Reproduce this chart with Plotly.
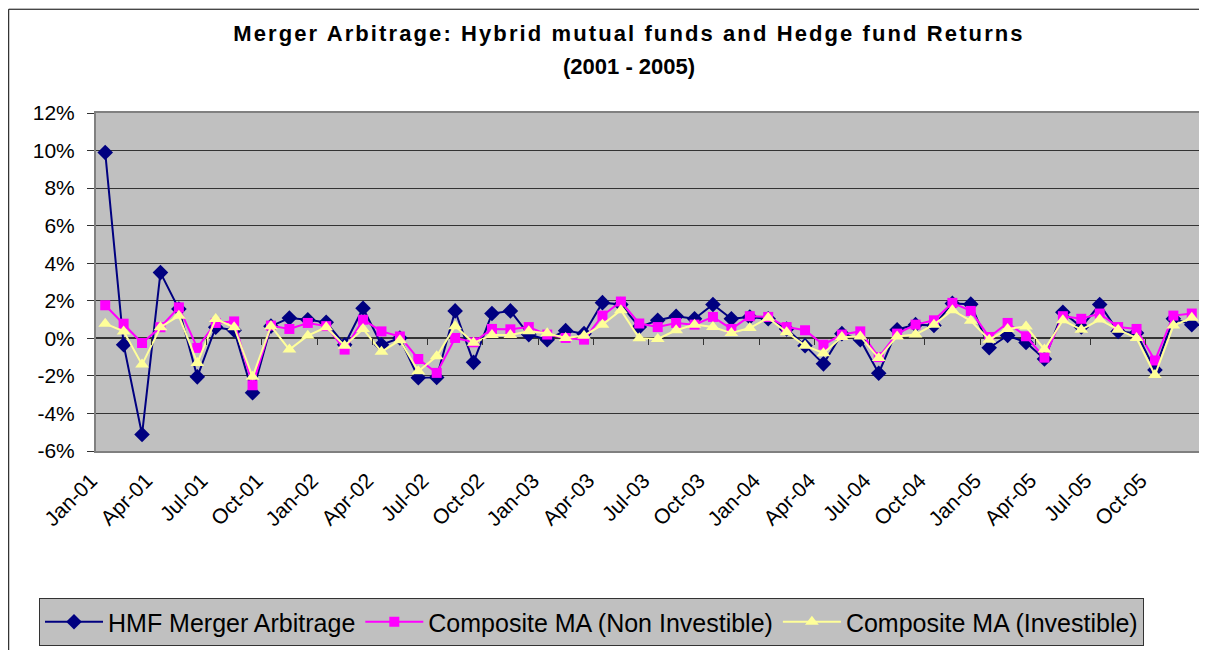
import plotly.graph_objects as go

# Meses (Jan-01 .. Dec-05)
MONTHS = ['Jan', 'Feb', 'Mar', 'Apr', 'May', 'Jun', 'Jul', 'Aug', 'Sep', 'Oct', 'Nov', 'Dec']
YEARS = ['01', '02', '03', '04', '05']
periods = [f"{m}-{y}" for y in YEARS for m in MONTHS]

# Retornos mensais (%)
hmf_merger = [9.9, -0.34, -5.12, 3.5, 1.56, -2.05, 0.59, 0.43, -2.9, 0.65,
              1.08, 0.99, 0.85, -0.34, 1.6, -0.34, 0.02, -2.1, -2.08, 1.46,
              -1.28, 1.32, 1.46, 0.2, -0.07, 0.41, 0.25, 1.9, 1.8, 0.6,
              0.96, 1.18, 1.04, 1.8, 1.04, 1.14, 1.04, 0.5, -0.39, -1.36,
              0.25, -0.07, -1.86, 0.46, 0.73, 0.68, 1.86, 1.82, -0.5, 0.15,
              -0.22, -1.1, 1.39, 0.6, 1.8, 0.37, 0.28, -1.68, 1.04, 0.73]
composite_non_inv = [1.76, 0.78, -0.25, 0.59, 1.65, -0.51, 0.82, 0.9, -2.5, 0.68,
                     0.5, 0.82, 0.65, -0.6, 0.99, 0.37, 0.1, -1.1, -1.84, 0.02,
                     -0.21, 0.5, 0.48, 0.6, 0.2, 0.02, -0.07, 1.21, 1.96, 0.79,
                     0.6, 0.82, 0.73, 1.14, 0.5, 1.18, 1.14, 0.6, 0.43, -0.34,
                     0.2, 0.37, -1.0, 0.25, 0.73, 0.96, 1.89, 1.46, 0.07, 0.82,
                     0.11, -1.03, 1.18, 1.04, 1.32, 0.6, 0.5, -1.18, 1.21, 1.32]
composite_inv = [0.78, 0.37, -1.4, 0.59, 1.2, -1.31, 1.03, 0.59, -2.05, 0.65,
                 -0.6, 0.14, 0.59, -0.39, 0.5, -0.72, -0.1, -1.75, -0.96, 0.65,
                 -0.24, 0.18, 0.18, 0.38, 0.27, 0.02, 0.14, 0.73, 1.5, 0.0,
                 -0.03, 0.43, 0.73, 0.6, 0.28, 0.55, 1.09, 0.32, -0.39, -0.79,
                 0.07, 0.1, -1.05, 0.1, 0.2, 0.73, 1.5, 0.93, -0.07, 0.5,
                 0.63, -0.59, 0.96, 0.46, 1.0, 0.46, 0.02, -1.95, 0.68, 1.09]

y_ticks = [-6, -4, -2, 0, 2, 4, 6, 8, 10, 12]
Y_MIN, Y_MAX = -6, 12

TITLE = 'Merger Arbitrage: Hybrid mutual funds and Hedge fund Returns'
SUBTITLE = '(2001 - 2005)'

FONT = "Liberation Sans, Arial, sans-serif"
W, H = 1199, 642  # a página tem 8px de margem no body
x_idx = list(range(len(periods)))
x_range = [-0.5, len(periods) - 0.5]

fig = go.Figure()

fig.add_trace(go.Scatter(
    x=x_idx, y=hmf_merger, name='HMF Merger Arbitrage', mode='lines+markers',
    line=dict(color='#000080', width=2),
    marker=dict(symbol='diamond', size=12, color='#000080'),
))
fig.add_trace(go.Scatter(
    x=x_idx, y=composite_non_inv, name='Composite MA (Non Investible)', mode='lines+markers',
    line=dict(color='#FF00FF', width=2),
    marker=dict(symbol='square', size=10, color='#FF00FF'),
))
fig.add_trace(go.Scatter(
    x=x_idx, y=composite_inv, name='Composite MA (Investible)', mode='lines+markers',
    line=dict(color='#FFFF99', width=2),
    marker=dict(symbol='triangle-up', size=12, color='#FFFF99'),
))
# traço vazio só para o eixo x2 (marcas no zero) ser desenhado
fig.add_trace(go.Scatter(x=[], y=[], xaxis='x2', showlegend=False, hoverinfo='skip'))

# moldura externa do gráfico
fig.add_shape(type='rect', xref='paper', yref='paper',
              x0=-0.079, x1=1.01, y0=-0.7, y1=1.307,
              line=dict(color='#000000', width=1), layer='below')

# segunda linha do título
fig.add_annotation(
    text=f'<b>{SUBTITLE}</b>', xref='paper', yref='paper',
    x=0.4824, y=1.138, xanchor='center', yanchor='middle', showarrow=False,
    font=dict(size=22, family=FONT, color='black'),
)

fig.update_layout(
    width=W, height=H,
    margin=dict(l=88, r=4, t=105, b=199),
    paper_bgcolor='white',
    plot_bgcolor='#C0C0C0',
    font=dict(family=FONT, color='black', size=21),
    title=dict(
        text=f'<b><span style="letter-spacing:2.1px">{TITLE}</span></b>',
        x=621 / W, xref='container', xanchor='center',
        y=1 - 25 / H, yref='container', yanchor='middle',
        font=dict(size=22, family=FONT),
    ),
    legend=dict(
        orientation='h',
        xref='container', yref='container',
        x=31 / W, xanchor='left',
        y=1 - 590 / H, yanchor='top',
        bgcolor='#C0C0C0', bordercolor='#333333', borderwidth=1,
        font=dict(size=25, family=FONT),
        itemwidth=58,
    ),
    xaxis=dict(
        range=x_range,
        tickmode='array',
        tickvals=x_idx[::3],
        ticktext=periods[::3],
        tickangle=-45,
        showgrid=False,
        zeroline=False,
        ticks='',
        ticklabelshift=-14,
        ticklabelstandoff=7,
        showline=True, linecolor='#808080', linewidth=2, mirror=True,
        tickfont=dict(size=21),
    ),
    # marcas do eixo de categorias sobre a linha do zero
    xaxis2=dict(
        overlaying='x', range=x_range,
        anchor='free', position=(0 - Y_MIN) / (Y_MAX - Y_MIN),
        side='bottom',
        tickmode='array',
        tickvals=[v - 0.5 for v in x_idx[::3]][1:],
        showticklabels=False, showgrid=False, zeroline=False, showline=False,
        ticks='outside', ticklen=6, tickcolor='#333333', tickwidth=1,
    ),
    yaxis=dict(
        range=[Y_MIN, Y_MAX],
        tickmode='array',
        tickvals=y_ticks,
        ticktext=[f"{v}%" for v in y_ticks],
        showgrid=True, gridcolor='#333333', gridwidth=1,
        zeroline=True, zerolinecolor='#333333', zerolinewidth=2,
        ticks='outside', ticklen=7, tickcolor='#333333',
        ticklabelstandoff=8,
        showline=True, linecolor='#808080', linewidth=2, mirror=True,
        tickfont=dict(size=21),
    ),
)

fig.write_html("out.html")
